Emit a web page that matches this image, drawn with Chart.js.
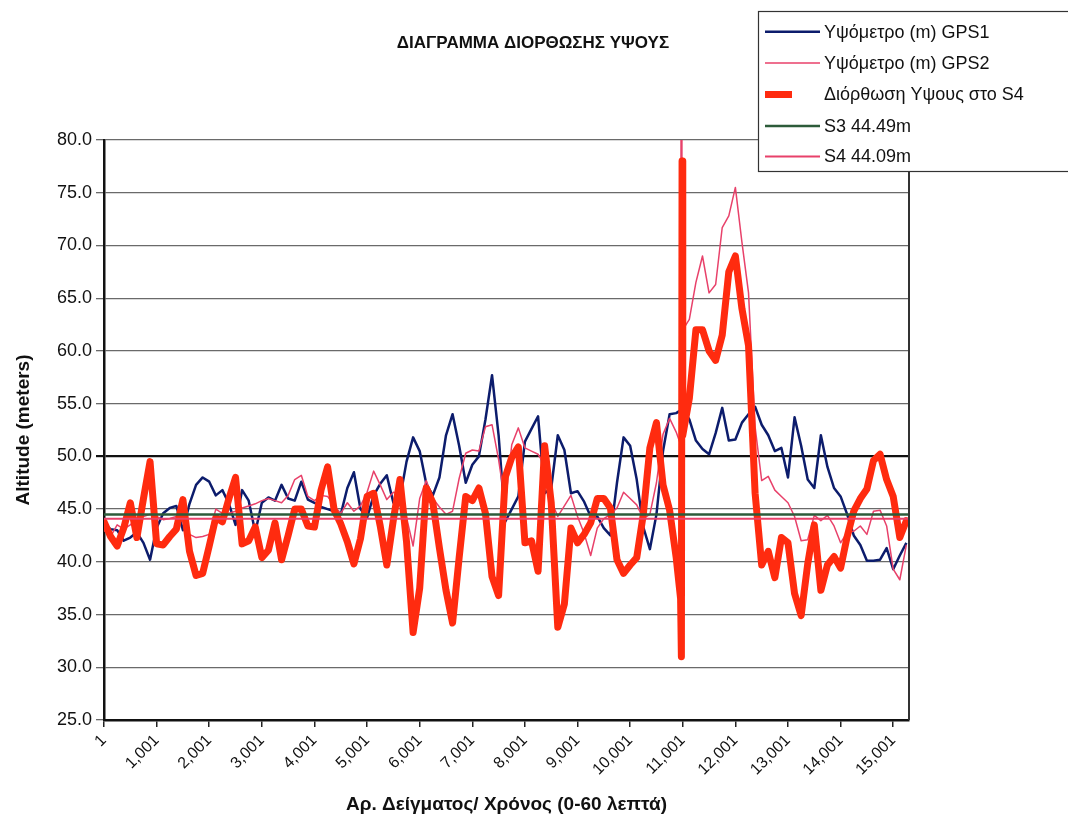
<!DOCTYPE html>
<html>
<head>
<meta charset="utf-8">
<script src="https://cdn.jsdelivr.net/npm/chart.js@4.4.1/dist/chart.umd.min.js"></script>
<style>
  html, body { margin: 0; padding: 0; background: #fff; }
  #wrap { width: 1068px; height: 822px; position: relative; }
</style>
</head>
<body>
<div id="wrap"><canvas id="altChart"></canvas></div>
<script>
const chartTitle = 'ΔΙΑΓΡΑΜΜΑ ΔΙΟΡΘΩΣΗΣ ΥΨΟΥΣ';
const seriesNames = ['Υψόμετρο (m) GPS1', 'Υψόμετρο (m) GPS2', 'Διόρθωση Υψους στο S4', 'S3 44.49m', 'S4 44.09m'];
const xTitle = 'Αρ. Δείγματος/ Χρόνος (0-60 λεπτά)';
const yTitle = 'Altitude (meters)';

const tickSamples = [1, 1001, 2001, 3001, 4001, 5001, 6001, 7001, 8001, 9001, 10001, 11001, 12001, 13001, 14001, 15001];
const lastSample = 15301;
const sampleStep = 125; // one reading every 125 samples

const gps1 = [
  43.5, 43.1, 43.0, 42.0, 42.3, 42.8, 41.8, 40.2, 43.2, 44.6,
  45.1, 45.3, 43.0, 45.5, 47.3, 48.0, 47.6, 46.3, 46.8, 45.5,
  43.5, 46.8, 45.8, 42.8, 45.6, 46.1, 45.8, 47.3, 46.0, 45.8,
  47.6, 45.9, 45.6, 45.2, 45.0, 44.8, 44.5, 47.0, 48.5, 45.0,
  44.2, 46.3, 47.4, 48.2, 45.6, 46.0, 49.5, 51.8, 50.5, 47.4,
  46.3, 48.0, 52.0, 54.0, 51.0, 47.5, 49.2, 50.0, 53.5, 57.7,
  52.0, 43.8, 45.0, 46.2, 51.4, 52.6, 53.8, 46.5, 47.0, 52.0,
  50.6, 46.5, 46.7, 45.7, 44.3, 44.3, 43.2, 42.5, 47.5, 51.8,
  51.0, 47.8, 43.3, 41.2, 44.5, 50.5, 54.0, 54.1, 54.5, 53.5,
  51.5, 50.7, 50.2, 52.2, 54.6, 51.5, 51.6, 53.2, 54.0, 54.7,
  53.0, 52.0, 50.5, 50.8, 48.0, 53.7, 51.0, 47.8, 47.0, 52.0,
  49.0, 47.0, 46.2, 44.5, 42.5, 41.6, 40.1, 40.1, 40.2, 41.3,
  39.3, 40.6, 41.8
];

const gps2 = [
  43.0, 42.4, 43.5, 43.1, 43.5, 44.1, 44.3, 44.5, 44.3, 44.0,
  44.1, 44.3, 43.8, 42.6, 42.3, 42.4, 42.6, 45.0, 44.6, 44.6,
  44.8, 45.1, 45.3, 45.5, 45.8, 46.0, 45.8, 45.6, 46.3, 47.8,
  48.2, 46.2, 45.8, 46.3, 46.2, 45.3, 44.6, 45.6, 44.8, 45.3,
  46.6, 48.6, 47.3, 45.9, 46.6, 46.4, 44.2, 41.5, 46.0, 47.7,
  46.0, 45.2, 44.5, 44.8, 47.9, 50.3, 50.6, 50.5, 52.8, 53.0,
  49.7, 45.5, 51.1, 52.7, 50.8, 50.5, 50.2, 49.2, 45.8, 44.3,
  45.3, 46.3, 44.3, 42.7, 40.6, 43.2, 44.1, 44.5, 45.1, 46.6,
  46.0, 45.4, 44.1, 44.5, 47.5, 52.1, 53.6, 52.3, 62.0, 63.0,
  66.5, 69.0, 65.5, 66.3, 71.7, 72.8, 75.5, 70.3, 65.5, 52.8,
  47.7, 48.1, 46.8, 46.2, 45.6, 44.3, 42.0, 42.1, 44.4, 43.9,
  44.4, 43.4, 41.8, 42.8, 42.9, 43.4, 42.6, 44.8, 44.9, 43.4,
  39.3, 38.3, 41.6
];

const correction = [
  43.8, 42.4, 41.5, 43.2, 45.6, 42.3, 46.0, 49.5, 41.7, 41.6,
  42.4, 43.1, 45.9, 41.0, 38.7, 38.9, 41.5, 44.2, 43.8, 46.0,
  48.0, 41.7, 42.0, 43.3, 40.4, 41.1, 43.7, 40.2, 42.5, 45.0,
  45.0, 43.4, 43.3, 46.8, 49.0, 44.9, 43.6, 41.9, 39.8, 42.2,
  46.2, 46.5, 43.4, 39.7, 44.0, 47.8, 41.9, 33.3, 37.5, 47.0,
  45.6, 41.3, 37.3, 34.2, 40.4, 46.2, 45.8, 47.0, 44.6, 38.6,
  36.8, 48.0, 49.9, 50.9, 41.8, 42.0, 39.1, 51.0, 45.6, 33.8,
  36.0, 43.2, 41.8, 42.6, 43.7, 46.0, 46.0, 45.1, 40.2, 38.9,
  39.7, 40.4, 44.5, 50.8, 53.2, 47.3, 44.9, 40.4, 52.0, 55.5,
  62.0, 62.0, 60.0, 59.1, 61.5, 67.5, 69.0, 64.0, 60.5, 46.5,
  39.7, 41.0, 38.5, 42.3, 41.8, 37.0, 34.9, 39.8, 43.5, 37.3,
  39.7, 40.5, 39.4, 42.4, 44.8, 46.0, 46.9, 49.6, 50.2, 47.8,
  46.2, 42.3, 43.9
];

// the short spike just before sample 11,001
const gps2SpikeX = [10955, 10970, 10985];
const gps2SpikeY = [51.2, 84, 62];
const corrSpikeX = [10960, 10975, 10988];
const corrSpikeY = [36.5, 31, 78];

const s3Level = 44.49;
const s4Level = 44.09;

const FONT = '"Liberation Sans", Arial, sans-serif';
Chart.defaults.font.family = FONT;
Chart.defaults.color = '#111';

function toPoints(vals) {
  return vals.map((v, i) => ({ x: 1 + i * sampleStep, y: v }));
}
function withSpike(points, xs, ys) {
  return points.concat(xs.map((x, i) => ({ x: x, y: ys[i] }))).sort((a, b) => a.x - b.x);
}
function level(v) {
  return [{ x: 1, y: v }, { x: lastSample, y: v }];
}

const lineBase = { pointRadius: 0, tension: 0, fill: false, borderJoinStyle: 'round' };

const datasets = [
  Object.assign({ label: seriesNames[0], data: toPoints(gps1), borderColor: '#0c1c6c', borderWidth: 2.5, order: 5 }, lineBase),
  Object.assign({ label: seriesNames[1], data: withSpike(toPoints(gps2), gps2SpikeX, gps2SpikeY), borderColor: '#e8416a', borderWidth: 1.5, order: 4 }, lineBase),
  Object.assign({ label: seriesNames[2], data: withSpike(toPoints(correction), corrSpikeX, corrSpikeY), borderColor: '#ff2b0f', borderWidth: 7, borderCapStyle: 'round', order: 3 }, lineBase),
  Object.assign({ label: seriesNames[3], data: level(s3Level), borderColor: '#2c5b3a', borderWidth: 2.5, order: 2 }, lineBase),
  Object.assign({ label: seriesNames[4], data: level(s4Level), borderColor: '#e8416a', borderWidth: 2, order: 1 }, lineBase)
];

const decorPlugin = {
  id: 'decor',
  afterDraw(chart) {
    const { ctx, chartArea: a } = chart;
    ctx.save();
    // right edge of the plot frame
    ctx.strokeStyle = '#333';
    ctx.lineWidth = 2;
    ctx.beginPath();
    ctx.moveTo(a.right, a.top);
    ctx.lineTo(a.right, a.bottom);
    ctx.stroke();

    // title
    ctx.fillStyle = '#111';
    ctx.font = 'bold 17px ' + FONT;
    ctx.textAlign = 'center';
    ctx.textBaseline = 'middle';
    ctx.fillText(chartTitle, 533, 43);

    // legend box
    ctx.fillStyle = '#fff';
    ctx.fillRect(758, 11, 330, 161);
    ctx.strokeStyle = '#333';
    ctx.lineWidth = 1.2;
    ctx.strokeRect(758.5, 11.5, 330, 160);
    const rows = [31.7, 63, 94.5, 126, 156.5];
    ctx.font = '18px ' + FONT;
    ctx.textAlign = 'left';
    chart.data.datasets.forEach((ds, i) => {
      const y = rows[i];
      ctx.strokeStyle = ds.borderColor;
      ctx.lineWidth = ds.borderWidth;
      ctx.lineCap = 'butt';
      ctx.beginPath();
      ctx.moveTo(765, y);
      ctx.lineTo(i === 2 ? 792 : 820, y);
      ctx.stroke();
      ctx.fillStyle = '#111';
      ctx.fillText(ds.label, 824, y + 1);
    });
    ctx.restore();
  }
};

new Chart(document.getElementById('altChart'), {
  type: 'line',
  data: { datasets: datasets },
  options: {
    responsive: true,
    maintainAspectRatio: false,
    animation: false,
    layout: { padding: { top: 140, right: 159, left: 0, bottom: 0 } },
    plugins: {
      legend: { display: false },
      title: { display: false },
      tooltip: { enabled: false }
    },
    scales: {
      x: {
        type: 'linear',
        min: 1,
        max: lastSample,
        afterBuildTicks: scale => { scale.ticks = tickSamples.map(v => ({ value: v })); },
        afterFit: scale => { scale.height = 102; },
        ticks: {
          autoSkip: false,
          minRotation: 45,
          maxRotation: 45,
          padding: 4,
          font: { size: 16 },
          callback: v => v.toLocaleString('en-US')
        },
        grid: { drawOnChartArea: false, tickLength: 7, color: '#222', lineWidth: 1.5 },
        border: { color: '#111', width: 2.5 },
        title: {
          display: true,
          text: xTitle,
          font: { size: 19, weight: 'bold' },
          padding: { top: 0, bottom: 6 }
        }
      },
      y: {
        min: 25,
        max: 80,
        afterFit: scale => { scale.width = 104; },
        ticks: {
          stepSize: 5,
          padding: 4,
          font: { size: 18 },
          callback: v => v.toFixed(1)
        },
        grid: {
          tickLength: 8,
          color: c => (c.tick && c.tick.value === 50 ? '#111' : '#6a6a6a'),
          lineWidth: c => (c.tick && c.tick.value === 50 ? 2.2 : 1.3)
        },
        border: { color: '#111', width: 2.5 },
        title: {
          display: true,
          text: yTitle,
          font: { size: 19, weight: 'bold' },
          padding: { top: 12, bottom: 0 }
        }
      }
    }
  },
  plugins: [decorPlugin]
});
</script>
</body>
</html>
